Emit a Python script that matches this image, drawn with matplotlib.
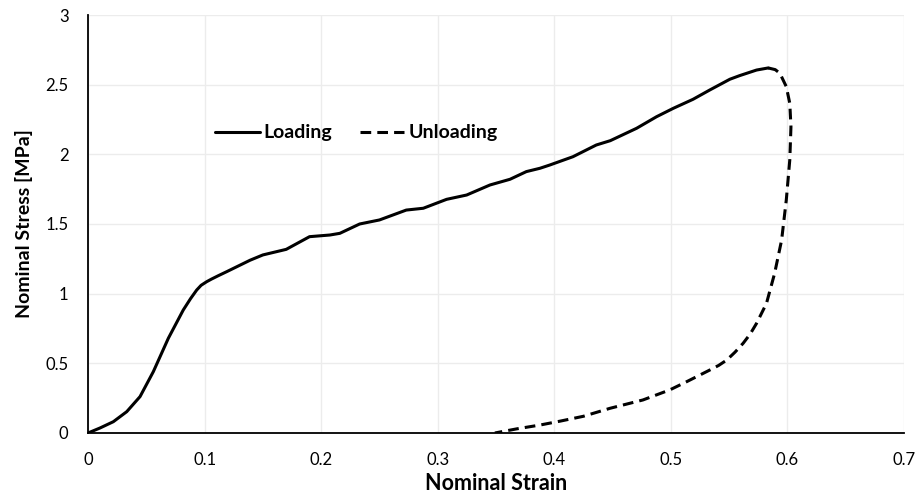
import matplotlib.pyplot as plt

# loading branch (strain, stress in MPa)
load_strain = [0.0, 0.0103, 0.0217, 0.0332, 0.0446, 0.056, 0.0689, 0.0817, 0.088,
               0.0932, 0.097, 0.1018, 0.106, 0.112, 0.119, 0.139, 0.150, 0.170,
               0.190, 0.2075, 0.216, 0.233, 0.250, 0.273, 0.2876, 0.3076, 0.3248,
               0.3448, 0.362, 0.376, 0.3877, 0.396, 0.416, 0.436, 0.448, 0.4706,
               0.4877, 0.502, 0.519, 0.5334, 0.5506, 0.559, 0.5735, 0.5835]
load_stress = [0.0, 0.036, 0.081, 0.153, 0.261, 0.44, 0.68, 0.883, 0.965,
               1.026, 1.06, 1.086, 1.105, 1.13, 1.158, 1.24, 1.278, 1.318,
               1.409, 1.421, 1.433, 1.50, 1.529, 1.60, 1.613, 1.677, 1.708,
               1.78, 1.821, 1.876, 1.90, 1.923, 1.983, 2.067, 2.098, 2.187,
               2.27, 2.33, 2.395, 2.462, 2.539, 2.565, 2.605, 2.62]

# unloading branch
unload_strain = [0.5835, 0.5895, 0.5935, 0.599, 0.602, 0.603, 0.602, 0.599, 0.595,
                 0.589, 0.582, 0.5735, 0.568, 0.562, 0.555, 0.548, 0.541, 0.5334,
                 0.5135, 0.499, 0.476, 0.4477, 0.425, 0.405, 0.3877, 0.368, 0.349]
unload_stress = [2.62, 2.608, 2.582, 2.486, 2.366, 2.198, 1.96, 1.672, 1.385,
                 1.146, 0.93, 0.787, 0.71, 0.644, 0.58, 0.524, 0.485, 0.452,
                 0.368, 0.309, 0.237, 0.177, 0.12, 0.085, 0.057, 0.03, 0.0]

x_ticks = [0, 0.1, 0.2, 0.3, 0.4, 0.5, 0.6, 0.7]
y_ticks = [0, 0.5, 1, 1.5, 2, 2.5, 3]

plt.rcParams['font.family'] = ['Lato', 'DejaVu Sans']

fig = plt.figure(figsize=(9.19, 4.97), dpi=100)
ax = fig.add_axes([0.0958, 0.1288, 0.8879, 0.8410])

ax.plot(load_strain, load_stress, color='black', lw=2.2, label='Loading',
        solid_joinstyle='round', solid_capstyle='round')
ax.plot(unload_strain, unload_stress, color='black', lw=2.2, ls=(0, (3.5, 2)),
        label='Unloading')

ax.set_xlim(0, 0.7)
ax.set_ylim(0, 3)
ax.set_xticks(x_ticks)
ax.set_xticklabels(['0', '0.1', '0.2', '0.3', '0.4', '0.5', '0.6', '0.7'])
ax.set_yticks(y_ticks)
ax.set_yticklabels(['0', '0.5', '1', '1.5', '2', '2.5', '3'])
ax.tick_params(length=0, labelsize=12, pad=14)
ax.grid(True, color='#ececec', lw=1)
ax.set_axisbelow(True)

for s in ['top', 'right']:
    ax.spines[s].set_visible(False)
for s in ['left', 'bottom']:
    ax.spines[s].set_linewidth(1.3)
    ax.spines[s].set_color('black')

ax.set_xlabel('Nominal Strain', fontsize=15.5, fontweight='bold', labelpad=3)
ax.set_ylabel('Nominal Stress [MPa]', fontsize=14, fontweight='bold', labelpad=9)

leg = ax.legend(loc='center left', bbox_to_anchor=(0.1556, 0.718), ncol=2, frameon=False,
                prop={'weight': 'bold', 'size': 14}, handlelength=2.3,
                handletextpad=0.2, columnspacing=1.4, borderpad=0, borderaxespad=0)

fig.savefig('out.png', dpi=100)
